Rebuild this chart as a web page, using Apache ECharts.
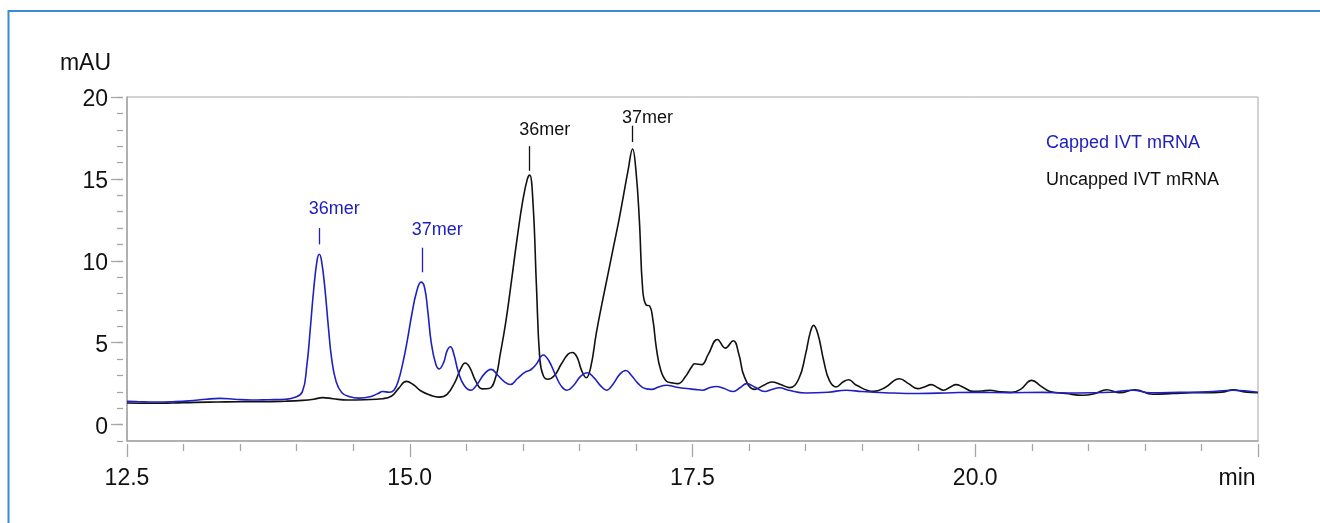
<!DOCTYPE html>
<html>
<head>
<meta charset="utf-8">
<script src="https://cdn.jsdelivr.net/npm/echarts@6/dist/echarts.min.js"></script>
<style>
html,body{margin:0;padding:0;background:#fff;}
#chart{width:1320px;height:523px;}
</style>
</head>
<body>
<div id="chart"></div>
<script>
// ---- data (time in min, absorbance in mAU) ----
var seriesNames = ['Capped IVT mRNA', 'Uncapped IVT mRNA'];

var cappedTime = [12.50,12.60,12.75,12.90,13.05,13.20,13.32,13.45,13.60,13.75,13.90,13.98,14.05,14.09,14.12,14.15,14.18,14.20,14.22,14.25,14.28,14.31,14.35,14.40,14.47,14.55,14.65,14.72,14.76,14.82,14.86,14.90,14.94,14.98,15.02,15.06,15.10,15.13,15.16,15.19,15.23,15.26,15.30,15.33,15.36,15.39,15.43,15.48,15.54,15.60,15.66,15.72,15.78,15.84,15.89,15.95,16.02,16.07,16.12,16.18,16.23,16.29,16.34,16.39,16.45,16.51,16.57,16.63,16.69,16.74,16.80,16.86,16.91,16.96,17.02,17.08,17.14,17.20,17.27,17.35,17.45,17.52,17.59,17.65,17.71,17.78,17.86,17.92,17.98,18.05,18.14,18.20,18.27,18.35,18.50,18.70,18.86,19.00,19.20,19.50,19.80,20.00,20.30,20.60,20.90,21.20,21.39,21.55,21.80,22.05,22.28,22.50];
var cappedAbs  = [1.42,1.40,1.38,1.40,1.45,1.55,1.60,1.55,1.50,1.52,1.55,1.65,2.0,3.6,5.8,8.2,10.0,10.4,10.0,8.3,6.0,4.0,2.6,1.95,1.7,1.62,1.7,1.9,2.02,1.98,2.1,2.7,3.8,5.2,6.8,8.1,8.7,8.4,6.9,5.0,3.7,3.4,3.8,4.5,4.75,4.3,3.2,2.4,2.1,2.5,3.1,3.37,3.0,2.6,2.45,2.8,3.2,3.35,3.7,4.25,3.9,3.0,2.35,2.1,2.4,2.95,3.17,2.85,2.35,2.1,2.5,3.1,3.3,3.0,2.5,2.2,2.15,2.3,2.4,2.3,2.2,2.15,2.1,2.25,2.33,2.2,2.02,2.25,2.5,2.3,2.02,2.15,2.25,2.1,1.93,1.98,2.1,2.02,1.95,1.9,1.95,1.97,1.95,1.97,1.93,1.98,2.1,1.95,1.97,2.0,2.1,1.98];

var uncappedTime = [12.50,12.70,12.90,13.10,13.30,13.50,13.70,13.90,14.05,14.15,14.23,14.32,14.45,14.60,14.76,14.84,14.90,14.97,15.03,15.10,15.18,15.26,15.33,15.40,15.45,15.49,15.53,15.58,15.64,15.70,15.76,15.80,15.85,15.90,15.95,16.00,16.04,16.06,16.09,16.12,16.15,16.18,16.22,16.28,16.34,16.40,16.44,16.48,16.52,16.56,16.60,16.65,16.70,16.75,16.80,16.85,16.89,16.93,16.97,17.00,17.03,17.06,17.09,17.12,17.15,17.18,17.22,17.27,17.32,17.37,17.44,17.49,17.52,17.58,17.64,17.72,17.79,17.86,17.91,17.96,18.05,18.13,18.20,18.28,18.36,18.44,18.50,18.54,18.57,18.61,18.66,18.71,18.77,18.83,18.88,18.95,19.10,19.20,19.33,19.41,19.49,19.55,19.61,19.67,19.72,19.78,19.83,19.89,19.98,20.06,20.13,20.22,20.32,20.40,20.50,20.58,20.66,20.80,20.95,21.06,21.16,21.28,21.41,21.57,21.75,21.92,22.10,22.20,22.28,22.38,22.50];
var uncappedAbs  = [1.32,1.30,1.32,1.36,1.38,1.40,1.40,1.43,1.48,1.55,1.65,1.58,1.50,1.52,1.58,1.75,2.2,2.64,2.45,2.05,1.8,1.68,1.85,2.6,3.4,3.76,3.5,2.7,2.18,2.2,2.9,4.3,6.3,8.8,11.4,13.7,15.0,15.24,13.5,8.5,4.0,3.0,2.77,3.0,3.7,4.3,4.4,4.1,3.3,2.86,3.5,5.6,7.4,9.1,10.8,12.5,14.0,15.5,16.83,15.5,12.5,8.2,7.3,7.25,6.4,4.7,3.3,2.65,2.55,2.5,2.95,3.5,3.72,3.66,4.3,5.2,4.67,5.12,4.3,2.9,2.15,2.4,2.6,2.45,2.26,2.8,4.3,5.6,6.06,5.5,3.9,2.7,2.3,2.6,2.74,2.4,2.03,2.25,2.8,2.5,2.2,2.3,2.44,2.25,2.1,2.3,2.44,2.3,2.03,2.05,2.1,2.0,1.97,2.15,2.7,2.35,2.02,1.9,1.79,1.9,2.13,1.95,2.13,1.85,1.9,1.95,1.95,2.0,2.12,2.0,1.95];

// peak annotations
var annotSeries = [0, 0, 1, 1];
var annotTime   = [14.20, 15.11, 16.06, 16.97];
var annotBottom = [11.0, 9.3, 15.5, 17.25];
var annotTop    = [12.0, 10.8, 17.0, 18.25];
var annotLabel  = ['36mer', '37mer', '36mer', '37mer'];
var annotGap    = [10, 9, 7, -1.5];

var yMajorTicks = [0, 5, 10, 15, 20];
var yMinorTicks = [-1,0,1,2,3,4,5,6,7,8,9,10,11,12,13,14,15,16,17,18,19,20];

var colors = ['#2020bf', '#111111'];
var FONT = '"Liberation Sans", Arial, sans-serif';

function pairs(t, v) { return t.map(function (x, i) { return [x, v[i]]; }); }

function marks(si) {
  var d = [];
  for (var i = 0; i < annotTime.length; i++) {
    if (annotSeries[i] !== si) continue;
    d.push([
      { coord: [annotTime[i], annotBottom[i]] },
      { coord: [annotTime[i], annotTop[i]],
        label: { show: true, position: 'end', formatter: annotLabel[i], distance: annotGap[i] } }
    ]);
  }
  return {
    silent: true, symbol: 'none', animation: false,
    lineStyle: { color: colors[si], width: 1.3, type: 'solid' },
    label: { color: colors[si], fontSize: 18, fontFamily: FONT, offset: [15, 0] },
    data: d
  };
}

var chart = echarts.init(document.getElementById('chart'), null, { renderer: 'canvas' });
var axisGray = '#a6a6a6';
chart.setOption({
  animation: false,
  backgroundColor: '#ffffff',
  graphic: [
    { type: 'line', shape: { x1: 8.5, y1: 11, x2: 1320, y2: 11 }, style: { stroke: '#3a8ed0', lineWidth: 2 } },
    { type: 'line', shape: { x1: 8.5, y1: 10, x2: 8.5, y2: 523 }, style: { stroke: '#3a8ed0', lineWidth: 2 } }
  ],
  grid: { left: 127, right: 62, top: 97, bottom: 82, show: true, borderColor: axisGray, borderWidth: 1 },
  legend: {
    orient: 'vertical', left: 1036, top: 129, icon: 'none', itemWidth: 0, itemHeight: 14, itemGap: 19,
    selectedMode: false,
    textStyle: { fontSize: 18, fontFamily: FONT },
    data: [
      { name: seriesNames[0], textStyle: { color: colors[0] } },
      { name: seriesNames[1], textStyle: { color: '#111' } }
    ]
  },
  xAxis: [
    { type: 'value', min: 12.5, max: 22.5, position: 'bottom',
      axisLine: { show: true, onZero: false, lineStyle: { color: axisGray, width: 1.5 } },
      axisTick: { show: false }, axisLabel: { show: false }, splitLine: { show: false } },
    { type: 'value', min: 12.5, max: 22.5, interval: 2.5, position: 'bottom', offset: 3,
      axisLine: { show: false, onZero: false },
      axisTick: { show: true, length: 13, lineStyle: { color: axisGray, width: 1.3 } },
      minorTick: { show: true, splitNumber: 5, length: 7, lineStyle: { color: axisGray, width: 1.3 } },
      splitLine: { show: false }, minorSplitLine: { show: false },
      axisLabel: {
        margin: 23, color: '#111', fontSize: 23, fontFamily: FONT,
        formatter: function (v) {
          if (Math.abs(v - 22.5) < 1e-6) return '{m|min}';
          return v.toFixed(1);
        },
        rich: { m: { fontSize: 23, fontFamily: FONT, color: '#111', padding: [0, 42, 0, 0] } }
      } }
  ],
  yAxis: [
    { type: 'value', min: -1, max: 20, position: 'left',
      axisLine: { show: true, onZero: false, lineStyle: { color: axisGray, width: 1.5 } },
      axisTick: { show: false }, axisLabel: { show: false }, splitLine: { show: false } },
    { type: 'value', min: -1, max: 20, position: 'left', offset: 4,
      name: 'mAU', nameLocation: 'end', nameGap: 22,
      nameTextStyle: { color: '#111', fontSize: 23, fontFamily: FONT, align: 'right', padding: [0, 12, 0, 0] },
      axisLine: { show: false, onZero: false },
      axisTick: { show: true, length: 12, customValues: yMajorTicks, lineStyle: { color: axisGray, width: 1.3 } },
      axisLabel: { show: true, margin: 15, customValues: yMajorTicks, color: '#111', fontSize: 23, fontFamily: FONT,
        formatter: function (v) { return '{n|' + v + '}'; },
        rich: { n: { fontSize: 23, fontFamily: FONT, color: '#111', padding: [6, 0, 0, 0] } } },
      splitLine: { show: false } },
    { type: 'value', min: -1, max: 20, position: 'left', offset: 4,
      axisLine: { show: false, onZero: false },
      axisTick: { show: true, length: 6, customValues: yMinorTicks, lineStyle: { color: axisGray, width: 1.3 } },
      axisLabel: { show: false }, splitLine: { show: false } }
  ],
  series: [
    { name: seriesNames[1], type: 'line', xAxisIndex: 0, yAxisIndex: 0, data: pairs(uncappedTime, uncappedAbs),
      showSymbol: false, smooth: 0.45, lineStyle: { color: colors[1], width: 1.6 },
      itemStyle: { color: colors[1] }, markLine: marks(1), z: 2 },
    { name: seriesNames[0], type: 'line', xAxisIndex: 0, yAxisIndex: 0, data: pairs(cappedTime, cappedAbs),
      showSymbol: false, smooth: 0.45, lineStyle: { color: colors[0], width: 1.6 },
      itemStyle: { color: colors[0] }, markLine: marks(0), z: 3 }
  ]
});
</script>
</body>
</html>
